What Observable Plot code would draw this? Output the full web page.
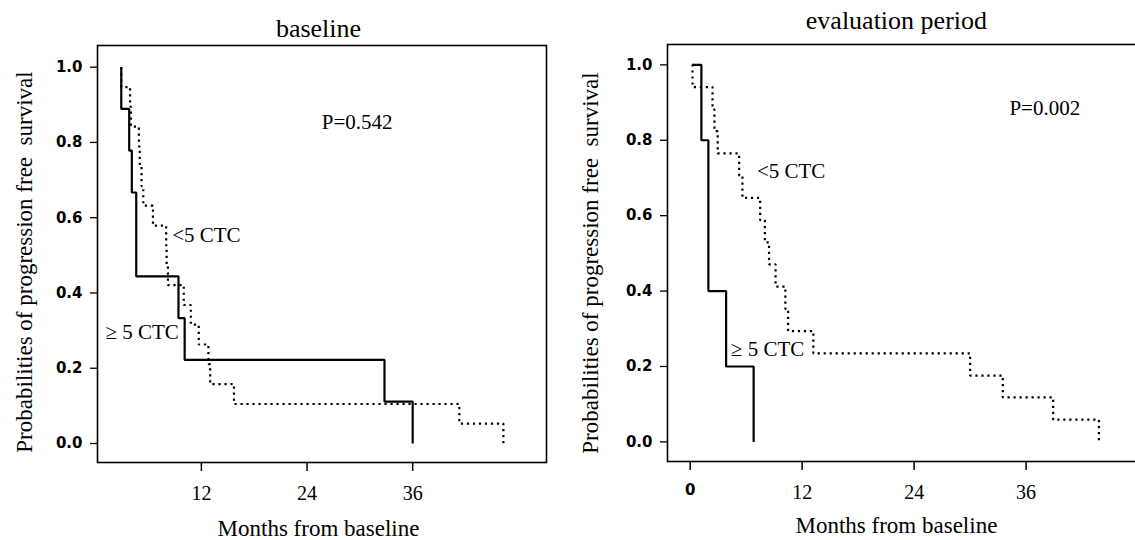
<!DOCTYPE html>
<html>
<head>
<meta charset="utf-8">
<script src="https://cdn.jsdelivr.net/npm/d3@7"></script>
<script src="https://cdn.jsdelivr.net/npm/@observablehq/plot@0.6"></script>
<style>
  html, body { margin: 0; padding: 0; background: #fff; }
  #wrap { display: flex; width: 1135px; height: 540px; overflow: hidden; }
  .panel { overflow: hidden; height: 540px; flex: none; position: relative; }
  .panel svg { max-width: none !important; display: block; }
  #left { width: 560px; }
  #right { width: 575px; }
</style>
</head>
<body>
<div id="wrap"><div id="left" class="panel"></div><div id="right" class="panel"></div></div>
<script>
// ---- data (months, survival probability) ----
const panelTitles = ["baseline", "evaluation period"];
const pValues = ["P=0.542", "P=0.002"];
const groupLabels = ["<5 CTC", "\u2265 5 CTC"];
const yTicks = [0, 0.2, 0.4, 0.6, 0.8, 1.0];
const xTicksLeft = [12, 24, 36];
const xTicksRight = [12, 24, 36];
const xTicksRightZero = [0];

// baseline panel
const baseHighTime = [2.9, 2.9, 3.8, 4.1, 4.6, 9.4, 10.1, 32.8, 36.0];
const baseHighSurv = [1, 0.889, 0.778, 0.667, 0.444, 0.333, 0.222, 0.111, 0];
const baseLowTime = [2.9, 2.9, 3.9, 4.0, 4.9, 5.0, 5.2, 5.4, 6.5, 8.0, 8.05, 8.2, 10.0, 10.8, 11.7, 12.8, 13.0, 15.7, 41.3, 46.3];
const baseLowSurv = [1, 0.947, 0.895, 0.842, 0.789, 0.737, 0.684, 0.632, 0.579, 0.526, 0.474, 0.421, 0.368, 0.316, 0.263, 0.211, 0.158, 0.105, 0.053, 0];

// evaluation period panel
const evalHighTime = [0.2, 1.2, 1.95, 3.85, 6.8];
const evalHighSurv = [1, 0.8, 0.4, 0.2, 0];
const evalLowTime = [0.2, 0.25, 2.4, 2.6, 2.95, 5.25, 5.6, 7.5, 8.0, 8.45, 9.15, 10.2, 10.5, 13.2, 30.0, 33.5, 38.9, 43.8];
const evalLowSurv = [1, 0.941, 0.882, 0.824, 0.765, 0.706, 0.647, 0.588, 0.529, 0.471, 0.412, 0.353, 0.294, 0.235, 0.176, 0.118, 0.059, 0];

// annotation anchors (data coordinates)
const leftP = [{text: pValues[0], t: 29.7, s: 0.853}];
const leftGroups = [
  {text: groupLabels[0], t: 8.68, s: 0.553},
  {text: groupLabels[1], t: 1.11, s: 0.296}
];
const rightP = [{text: pValues[1], t: 38.0, s: 0.884}];
const rightGroups = [
  {text: groupLabels[0], t: 7.15, s: 0.719},
  {text: groupLabels[1], t: 4.36, s: 0.247}
];

const rows = (T, S) => T.map((t, i) => ({t, s: S[i]}));
const serif = "Liberation Serif, Times New Roman, serif";
const sans = "DejaVu Sans, sans-serif";

function panel(cfg) {
  const marks = [
    Plot.frame({stroke: "black", strokeWidth: 1.6}),
    Plot.axisY(yTicks, {tickSize: 7, tickPadding: 8, tickFormat: d3.format(".1f"),
      fontSize: 15, fontWeight: "bold", fontFamily: sans, label: null, strokeWidth: 1.3}),
    Plot.axisX(cfg.xTicks, {tickSize: 9, tickPadding: 14, fontSize: 20, fontFamily: serif, label: null, strokeWidth: 1.5}),
    Plot.line(rows(cfg.lowT, cfg.lowS), {x: "t", y: "s", curve: "step-after", stroke: "black",
      strokeWidth: 2.2, strokeDasharray: "2.2,3.8", strokeLinecap: "butt", strokeLinejoin: "miter"}),
    Plot.line(rows(cfg.highT, cfg.highS), {x: "t", y: "s", curve: "step-after", stroke: "black",
      strokeWidth: 2.2, strokeLinecap: "butt", strokeLinejoin: "miter"}),
    Plot.text(cfg.pNote, {x: "t", y: "s", text: "text", textAnchor: "middle", fontSize: 21, fontFamily: serif, fill: "black"}),
    Plot.text(cfg.groups, {x: "t", y: "s", text: "text", textAnchor: "start", fontSize: 21, fontFamily: serif, fill: "black"}),
    Plot.text([cfg.title], {x: cfg.titleX, frameAnchor: "top", dy: cfg.titleDy, lineAnchor: "bottom",
      fontSize: 26, fontFamily: serif, fill: "black"}),
    Plot.text(["Months from baseline"], {x: cfg.titleX, frameAnchor: "bottom", dy: cfg.xLabelDy, lineAnchor: "bottom",
      fontSize: 23, fontFamily: serif, fill: "black"}),
    Plot.text(["Probabilities of progression free  survival"], {frameAnchor: "left", dx: cfg.yLabelDx, dy: cfg.yLabelDy,
      rotate: -90, fontSize: 23, fontFamily: serif, fill: "black", textAnchor: "middle"})
  ];
  if (cfg.xTicksZero) marks.push(Plot.axisX(cfg.xTicksZero, {tickSize: 9, tickPadding: 14, fontSize: 15,
    fontWeight: "bold", fontFamily: sans, label: null, strokeWidth: 1.5}));
  return Plot.plot({
    width: cfg.width, height: 540,
    marginLeft: cfg.ml, marginRight: cfg.mr, marginTop: cfg.mt, marginBottom: cfg.mb,
    x: {domain: cfg.xDomain, axis: null},
    y: {domain: cfg.yDomain, axis: null},
    style: {background: "white", color: "black", overflow: "hidden", maxWidth: "none"},
    marks
  });
}

document.getElementById("left").append(panel({
  width: 560, ml: 97, mr: 14, mt: 45, mb: 78,
  xDomain: [0.2, 51.2], yDomain: [-0.0505, 1.0576],
  xTicks: xTicksLeft,
  highT: baseHighTime, highS: baseHighSurv, lowT: baseLowTime, lowS: baseLowSurv,
  pNote: leftP, groups: leftGroups, title: panelTitles[0], titleX: 25.3, titleDy: -9, xLabelDy: 73,
  yLabelDx: -73, yLabelDy: 8
}));
document.getElementById("right").append(panel({
  width: 600, ml: 107, mr: 0, mt: 44, mb: 79,
  xDomain: [-2.43, 50.4], yDomain: [-0.052, 1.054],
  xTicks: xTicksRight, xTicksZero: xTicksRightZero,
  highT: evalHighTime, highS: evalHighSurv, lowT: evalLowTime, lowS: evalLowSurv,
  pNote: rightP, groups: rightGroups, title: panelTitles[1], titleX: 22.1, titleDy: -16, xLabelDy: 71,
  yLabelDx: -77, yLabelDy: 10
}));
</script>
</body>
</html>
